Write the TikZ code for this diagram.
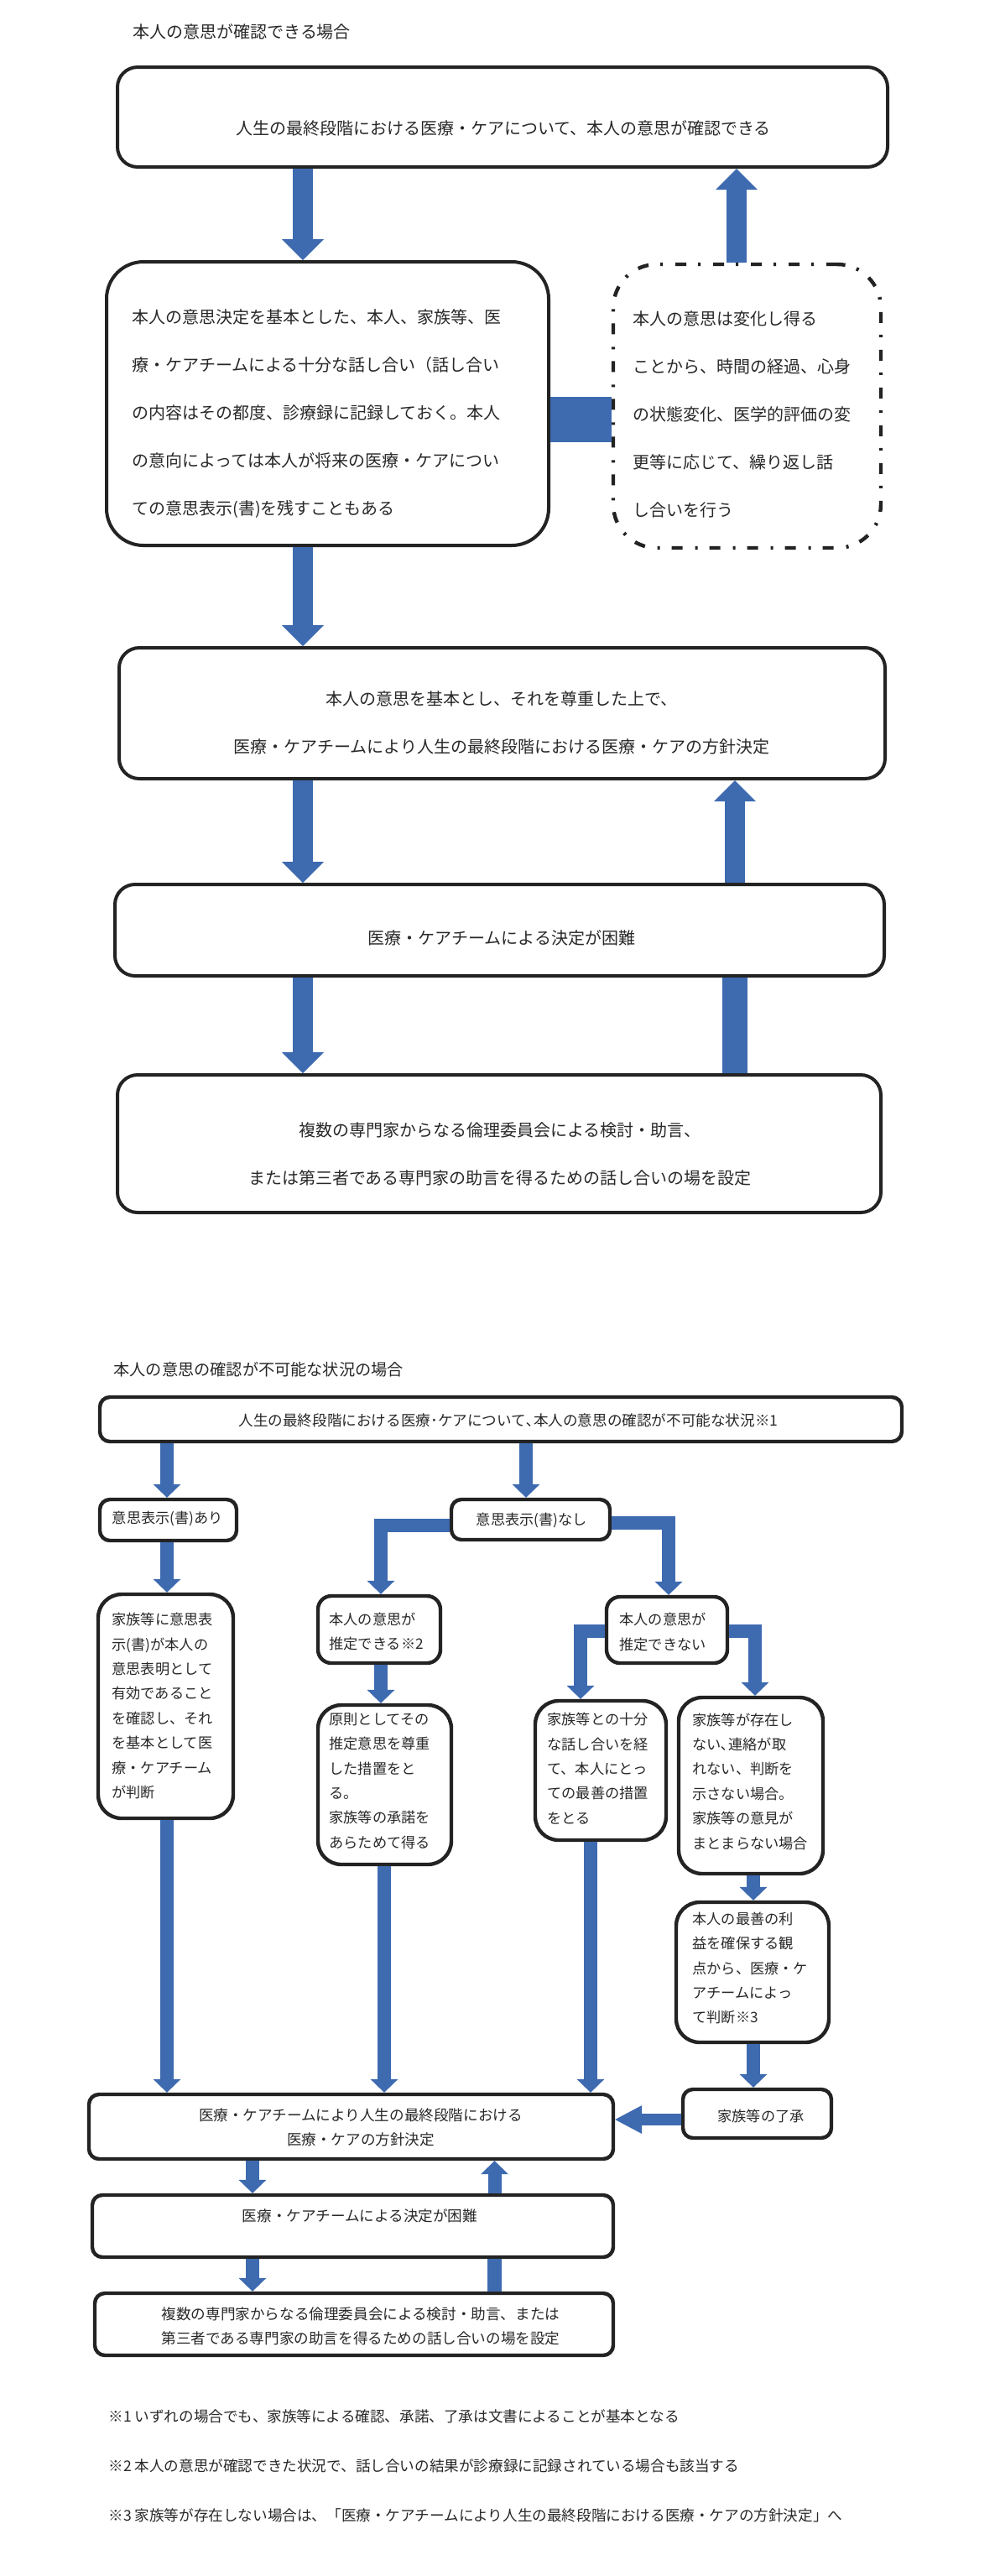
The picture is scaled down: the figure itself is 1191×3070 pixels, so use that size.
\documentclass[tikz,border=0pt]{standalone}
\usepackage{fontspec}
\setmainfont{Noto Sans CJK JP}
\usetikzlibrary{arrows.meta}

\definecolor{flowblue}{RGB}{62,106,176}
\definecolor{framegray}{RGB}{35,35,35}
\definecolor{inkgray}{RGB}{40,40,40}

\tikzset{
  bigbox/.style={draw=framegray, line width=2pt, rounded corners=12pt, inner sep=0pt},
  lowbox/.style={draw=framegray, line width=2.2pt, rounded corners=6pt, inner sep=0pt},
  tallbox/.style={lowbox, rounded corners=14pt},
  toptext/.style={inner sep=0pt, text=inkgray, font=\fontsize{10}{28.5}\selectfont},
  lowtext/.style={inner sep=0pt, text=inkgray, font=\fontsize{8.6}{14.7}\selectfont},
  midtext/.style={inner sep=0pt, text=inkgray, font=\fontsize{8.8}{14.5}\selectfont},
  bigarrow/.style={flowblue, line width=12pt, -{Triangle[width=25pt,length=12.5pt,line width=0pt]}},
  bigbar/.style={flowblue, line width=15pt},
  thinarrow/.style={flowblue, line width=8pt, -{Triangle[width=16.5pt,length=8pt,line width=0pt]}},
  thinbar/.style={flowblue, line width=8.5pt},
}

\begin{document}
\begin{tikzpicture}[x=0.5pt,y=-0.5pt]
\useasboundingbox (0,0) rectangle (1191,3070);

% case 1: wishes can be confirmed
\node [toptext, anchor=west] (title1) at (158,38) {本人の意思が確認できる場合};

\node [bigbox, minimum width=459pt, minimum height=59.5pt] (b1) at (599,139.5) {};
\node [toptext] (b1text) at (600,153) {人生の最終段階における医療・ケアについて、本人の意思が確認できる};

\node [bigbox, rounded corners=22pt, minimum width=263.5pt, minimum height=169pt] (b2) at (390.5,481) {};
\node [toptext, anchor=west, align=left] (b2text) at (157,493) {本人の意思決定を基本とした、本人、家族等、医\\療・ケアチームによる十分な話し合い（話し合い\\の内容はその都度、診療録に記録しておく。本人\\の意向によっては本人が将来の医療・ケアについ\\ての意思表示(書)を残すこともある};

\node [bigbox, line width=2.2pt, rounded corners=26pt, dash pattern=on 6.5pt off 7.5pt on 1.5pt off 7pt, minimum width=159.5pt, minimum height=169pt] (b3) at (890.5,484) {};
\node [toptext, anchor=west, align=left] (b3text) at (754,494) {本人の意思は変化し得る\\ことから、時間の経過、心身\\の状態変化、医学的評価の変\\更等に応じて、繰り返し話\\し合いを行う};

\node [bigbox, minimum width=456.5pt, minimum height=78pt] (b4) at (598.5,850) {};
\node [toptext, align=center] (b4text) at (598,861.5) {本人の意思を基本とし、それを尊重した上で、\\医療・ケアチームにより人生の最終段階における医療・ケアの方針決定};

\node [bigbox, minimum width=458.5pt, minimum height=54.5pt] (b5) at (595.5,1108.5) {};
\node [toptext] (b5text) at (598,1118) {医療・ケアチームによる決定が困難};

\node [bigbox, minimum width=455pt, minimum height=82pt] (b6) at (595,1363) {};
\node [toptext, align=center] (b6text) at (596,1375) {複数の専門家からなる倫理委員会による検討・助言、\\または第三者である専門家の助言を得るための話し合いの場を設定};

\coordinate (colA) at (361,0);
\coordinate (colB) at (878,0);
\coordinate (colC) at (876,0);
\coordinate (midbar) at (0,500);

\draw [flowblue, line width=27pt] (b2.east |- midbar) -- (b3.west |- midbar);
\draw [bigarrow] (b1.south -| colA) -- (b2.north -| colA);
\draw [bigarrow] (b3.north -| colB) -- (b1.south -| colB);
\draw [bigarrow] (b2.south -| colA) -- (b4.north -| colA);
\draw [bigarrow] (b4.south -| colA) -- (b5.north -| colA);
\draw [bigarrow] (b5.north -| colC) -- (b4.south -| colC);
\draw [bigarrow] (b5.south -| colA) -- (b6.north -| colA);
\draw [bigbar] (b6.north -| colC) -- (b5.south -| colC);

% case 2: wishes cannot be confirmed
\node [inner sep=0pt, text=inkgray, font=\fontsize{9.6}{12}\selectfont, anchor=west] (title2) at (135,1632) {本人の意思の確認が不可能な状況の場合};

\node [lowbox, minimum width=478pt, minimum height=26.5pt] (c1) at (597,1691.5) {};
\node [midtext] (c1text) at (606,1693) {人生の最終段階における医療･ケアについて､本人の意思の確認が不可能な状況※1};

\node [lowbox, minimum width=81.5pt, minimum height=24.5pt] (c2) at (200.5,1811.5) {};
\node [lowtext] (c2text) at (200,1810) {意思表示(書)あり};

\node [lowbox, minimum width=94.5pt, minimum height=24pt] (c3) at (632.5,1811) {};
\node [lowtext] (c3text) at (634,1812) {意思表示(書)なし};

\node [tallbox, minimum width=80.5pt, minimum height=133.5pt] (c4) at (197.5,2033.5) {};
\node [lowtext, anchor=west, align=left] (c4text) at (133,2033) {家族等に意思表\\示(書)が本人の\\意思表明として\\有効であること\\を確認し、それ\\を基本として医\\療・ケアチーム\\が判断};

\node [lowbox, rounded corners=8pt, minimum width=73pt, minimum height=40pt] (c5) at (452,1942) {};
\node [lowtext, anchor=west, align=left] (c5text) at (392,1944.5) {本人の意思が\\推定できる※2};

\node [tallbox, minimum width=79.5pt, minimum height=95pt] (c7) at (458.5,2127) {};
\node [lowtext, anchor=west, align=left] (c7text) at (392,2122.5) {原則としてその\\推定意思を尊重\\した措置をと\\る。\\家族等の承諾を\\あらためて得る};

\node [lowbox, rounded corners=8pt, minimum width=72pt, minimum height=39.5pt] (c6) at (795,1942.5) {};
\node [lowtext, anchor=west, align=left] (c6text) at (738,1945) {本人の意思が\\推定できない};

\node [tallbox, minimum width=78pt, minimum height=83pt] (c8) at (716,2110) {};
\node [lowtext, anchor=west, align=left] (c8text) at (652,2107.5) {家族等との十分\\な話し合いを経\\て、本人にとっ\\ての最善の措置\\をとる};

\node [tallbox, minimum width=86pt, minimum height=105pt] (c9) at (895,2128) {};
\node [lowtext, anchor=west, align=left] (c9text) at (825,2123) {家族等が存在し\\ない､連絡が取\\れない、判断を\\示さない場合。\\家族等の意見が\\まとまらない場合};

\node [tallbox, minimum width=91pt, minimum height=83.5pt] (c10) at (897,2350.5) {};
\node [lowtext, anchor=west, align=left] (c10text) at (825,2345.5) {本人の最善の利\\益を確保する観\\点から、医療・ケ\\アチームによっ\\て判断※3};

\node [lowbox, minimum width=88.5pt, minimum height=29pt] (c11) at (902.5,2519) {};
\node [lowtext] (c11text) at (907,2522) {家族等の了承};

\node [lowbox, minimum width=312.5pt, minimum height=38.5pt] (c12) at (418.5,2534.5) {};
\node [midtext, align=center] (c12text) at (430,2535.5) {医療・ケアチームにより人生の最終段階における\\医療・ケアの方針決定};

\node [lowbox, minimum width=310.5pt, minimum height=37pt] (c13) at (420.5,2653) {};
\node [midtext] (c13text) at (429,2641) {医療・ケアチームによる決定が困難};

\node [lowbox, minimum width=309pt, minimum height=37pt] (c14) at (422,2770) {};
\node [midtext, align=center] (c14text) at (430,2772) {複数の専門家からなる倫理委員会による検討・助言、または\\第三者である専門家の助言を得るための話し合いの場を設定};

\coordinate (colD) at (199,0);
\coordinate (colE) at (627,0);
\coordinate (colF) at (454,0);
\coordinate (colG) at (797,0);
\coordinate (colH) at (692,0);
\coordinate (colI) at (900,0);
\coordinate (colJ) at (898,0);
\coordinate (colK) at (458,0);
\coordinate (colL) at (704,0);
\coordinate (colM) at (301,0);
\coordinate (colN) at (589.5,0);
\coordinate (rowF) at (0,1818);
\coordinate (rowG) at (0,1815);
\coordinate (rowH) at (0,1944);
\coordinate (rowK) at (0,2526);

\draw [thinarrow] (c1.south -| colD) -- (c2.north -| colD);
\draw [thinarrow] (c1.south -| colE) -- (c3.north -| colE);
\draw [thinarrow] (c3.west |- rowF) -| (c5.north -| colF);
\draw [thinarrow] (c3.east |- rowG) -| (c6.north -| colG);
\draw [thinarrow] (c2.south -| colD) -- (c4.north -| colD);
\draw [thinarrow] (c5.south -| colF) -- (c7.north -| colF);
\draw [thinarrow] (c6.west |- rowH) -| (c8.north -| colH);
\draw [thinarrow] (c6.east |- rowH) -| (c9.north -| colI);
\draw [thinarrow] (c9.south -| colJ) -- (c10.north -| colJ);
\draw [thinarrow] (c10.south -| colJ) -- (c11.north -| colJ);
\draw [flowblue, line width=7pt, -{Triangle[width=17pt,length=16pt,line width=0pt]}] (c11.west |- rowK) -- (c12.east |- rowK);
\draw [thinarrow] (c4.south -| colD) -- (c12.north -| colD);
\draw [thinarrow] (c7.south -| colK) -- (c12.north -| colK);
\draw [thinarrow] (c8.south -| colL) -- (c12.north -| colL);
\draw [thinarrow] (c12.south -| colM) -- (c13.north -| colM);
\draw [thinarrow] (c13.north -| colN) -- (c12.south -| colN);
\draw [thinarrow] (c13.south -| colM) -- (c14.north -| colM);
\draw [thinbar] (c14.north -| colN) -- (c13.south -| colN);

% notes
\node [midtext, anchor=west] (note1) at (129,2880) {※1 いずれの場合でも、家族等による確認、承諾、了承は文書によることが基本となる};
\node [midtext, anchor=west] (note2) at (129,2939) {※2 本人の意思が確認できた状況で、話し合いの結果が診療録に記録されている場合も該当する};
\node [midtext, anchor=west] (note3) at (129,2998) {※3 家族等が存在しない場合は、「医療・ケアチームにより人生の最終段階における医療・ケアの方針決定」へ};

\end{tikzpicture}
\end{document}
